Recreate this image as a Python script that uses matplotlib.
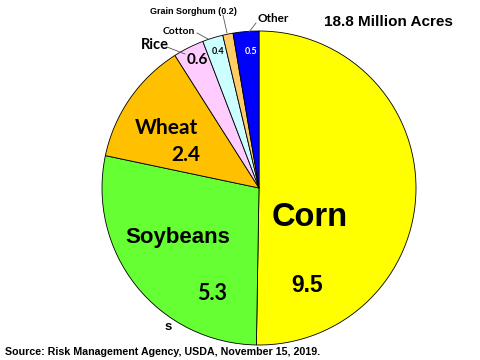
import matplotlib
matplotlib.use('Agg')
import matplotlib.pyplot as plt

# crop acreage, million acres
crops = ['Corn', 'Soybeans', 'Wheat', 'Rice', 'Cotton', 'Grain Sorghum', 'Other']
acres = [9.5, 5.3, 2.4, 0.6, 0.4, 0.2, 0.5]
colors = ['#FFFF00', '#66FF33', '#FFC000', '#FFCCFF', '#CCFFFF', '#FFCC66', '#0000FF']
title = '18.8 Million Acres'
source = 'Source: Risk Management Agency, USDA, November 15, 2019.'

fig = plt.figure(figsize=(4.8, 3.6), dpi=100)
ax = fig.add_axes([0, 0, 1, 1])

# pie drawn in pixel coords, y axis flipped so it runs clockwise on screen
ax.pie(acres, colors=colors, startangle=-90, counterclock=True,
       center=(259, 188), radius=157, frame=True,
       wedgeprops=dict(edgecolor='black', linewidth=0.6))
ax.set_xlim(0, 480)
ax.set_ylim(360, 0)
ax.set_aspect('equal')
ax.axis('off')

arial = 'Liberation Sans'
cal = 'Lato'

ax.text(310, 218, crops[0], fontsize=23.5, fontweight='bold', family=arial, ha='center', va='center')
ax.text(307, 286, str(acres[0]), fontsize=16.5, fontweight='bold', family=arial, ha='center', va='center')
ax.text(178, 237, crops[1], fontsize=16, fontweight='bold', family=arial, ha='center', va='center')
ax.text(212, 294, str(acres[1]), fontsize=15.5, fontweight='bold', family=cal, ha='center', va='center')
ax.text(166, 128, crops[2], fontsize=15, fontweight='bold', family=cal, ha='center', va='center')
ax.text(186, 155, str(acres[2]), fontsize=15, fontweight='bold', family=cal, ha='center', va='center')
ax.text(155, 45, crops[3], fontsize=10.5, fontweight='bold', family=cal, ha='center', va='center')
ax.text(197, 60, str(acres[3]), fontsize=11, fontweight='bold', family=cal, ha='center', va='center')
ax.text(179, 32, crops[4], fontsize=7.5, fontweight='bold', family=cal, ha='center', va='center')
ax.text(218, 52, str(acres[4]), fontsize=6.5, fontweight='bold', family=cal, ha='center', va='center')
ax.text(193, 12, crops[5] + ' (' + str(acres[5]) + ')', fontsize=6.5, fontweight='bold', family=arial, ha='center', va='center')
ax.text(257, 18, crops[6], fontsize=8.5, fontweight='bold', family=cal, ha='left', va='center')
ax.text(251, 52, str(acres[6]), fontsize=6.5, fontweight='bold', family=cal, color='white', ha='center', va='center')

# leader lines
ax.plot([167, 185], [47, 54], color='#555555', lw=0.6)
ax.plot([197, 208], [33, 39], color='#555555', lw=0.6)
ax.plot([223, 227], [15, 33], color='#555555', lw=0.6)
ax.plot([256, 249], [23, 32], color='#555555', lw=0.6)

ax.text(388, 22, title, fontsize=11, fontweight='bold', family=arial, ha='center', va='center')
ax.text(168, 327, 's', fontsize=9.5, fontweight='bold', family=arial, ha='center', va='center')
ax.text(5, 352, source, fontsize=7.7, fontweight='bold', family=arial, ha='left', va='center')

fig.savefig('out.png', dpi=100)
